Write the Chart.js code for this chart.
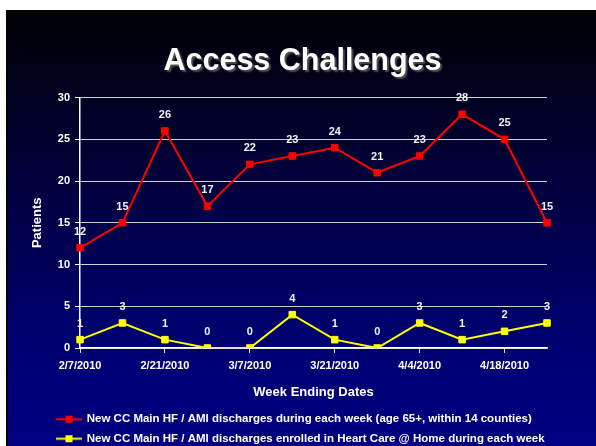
<!DOCTYPE html>
<html>
<head>
<meta charset="utf-8">
<script src="https://cdn.jsdelivr.net/npm/chart.js@4.4.1/dist/chart.umd.min.js"></script>
<style>
html,body{margin:0;padding:0;background:#ffffff;}
#wrap{width:596px;height:446px;position:relative;}
canvas{display:block;}
</style>
</head>
<body>
<div id="wrap"><canvas id="chart" width="596" height="446"></canvas></div>
<script>
// ---- data ----
const weekEnding = ["2/7/2010","2/14/2010","2/21/2010","2/28/2010","3/7/2010","3/14/2010",
                    "3/21/2010","3/28/2010","4/4/2010","4/11/2010","4/18/2010","4/25/2010"];
const newDischarges = [12,15,26,17,22,23,24,21,23,28,25,15];
const enrolledHCH   = [1,3,1,0,0,4,1,0,3,1,2,3];
const seriesNames = [
  "New CC Main HF / AMI discharges during each week (age 65+, within 14 counties)",
  "New CC Main HF / AMI discharges enrolled in Heart Care @ Home during each week"
];
const seriesColors = ["#ff0000", "#ffff00"];
const yMin = 0, yMax = 30, yStep = 5;
const chartTitle = "Access Challenges";
const xTitle = "Week Ending Dates";
const yTitle = "Patients";

const FONT = "'Liberation Sans', Arial, Helvetica, sans-serif";

// legend marker images (line with square)
function legendMarker(color){
  const c = document.createElement('canvas');
  c.width = 26; c.height = 9;
  const g = c.getContext('2d');
  g.strokeStyle = color; g.lineWidth = 2;
  g.beginPath(); g.moveTo(0, 4.5); g.lineTo(26, 4.5); g.stroke();
  g.fillStyle = color; g.fillRect(9.5, 1, 7, 7);
  return c;
}
const markers = seriesColors.map(legendMarker);

const bgPlugin = {
  id: 'bg',
  beforeDraw(chart){
    const ctx = chart.ctx;
    ctx.save();
    ctx.fillStyle = '#ffffff';
    ctx.fillRect(0,0,chart.width,chart.height);
    const g = ctx.createLinearGradient(0, 9, 0, chart.height);
    g.addColorStop(0, '#000005');
    g.addColorStop(0.35, '#000035');
    g.addColorStop(0.75, '#000070');
    g.addColorStop(1, '#000082');
    ctx.fillStyle = g;
    ctx.fillRect(6, 10, chart.width - 6, chart.height - 10);
    ctx.fillStyle = '#000000';
    ctx.fillRect(6, 10, 2, chart.height - 10);
    ctx.restore();
  }
};

const layoutTweak = {
  id: 'layoutTweak',
  afterLayout(chart){
    const L = chart.legend;
    if (L){
      const dx = 49 - L.left, dy = 405.5 - L.top;
      L.left += dx; L.right += dx; L.top += dy; L.bottom += dy;
    }
    const tb = chart.titleBlock;
    if (tb){
      const tx = 19;
      tb.left += tx; tb.right += tx;
      if (!tb._shadowWrapped){
        const orig = tb.draw.bind(tb);
        tb.draw = function(){
          const ctx = chart.ctx;
          ctx.save();
          ctx.shadowColor = 'rgba(80,80,80,1)';
          ctx.shadowOffsetX = 2; ctx.shadowOffsetY = 2; ctx.shadowBlur = 1.5;
          orig();
          ctx.restore();
        };
        tb._shadowWrapped = true;
      }
    }
  }
};

const valueLabels = {
  id: 'valueLabels',
  afterDatasetsDraw(chart){
    const ctx = chart.ctx;
    ctx.save();
    ctx.font = "bold 11px " + FONT;
    ctx.fillStyle = '#f2f2f2';
    ctx.textAlign = 'center';
    ctx.textBaseline = 'middle';
    chart.data.datasets.forEach((ds, i) => {
      chart.getDatasetMeta(i).data.forEach((pt, j) => {
        ctx.fillText(String(ds.data[j]), pt.x, pt.y - 16);
      });
    });
    ctx.restore();
  }
};

new Chart(document.getElementById('chart'), {
  type: 'line',
  data: {
    labels: weekEnding,
    datasets: [
      { label: seriesNames[0], data: newDischarges, borderColor: seriesColors[0], backgroundColor: seriesColors[0],
        borderWidth: 2, pointStyle: 'rect', pointRadius: 4.6, pointBorderWidth: 1, tension: 0 },
      { label: seriesNames[1], data: enrolledHCH, borderColor: seriesColors[1], backgroundColor: seriesColors[1],
        borderWidth: 2, pointStyle: 'rect', pointRadius: 4.6, pointBorderWidth: 1, tension: 0 }
    ]
  },
  options: {
    responsive: false,
    animation: false,
    devicePixelRatio: 1,
    layout: { padding: { top: 10, left: 20, right: 49, bottom: 0 } },
    plugins: {
      title: {
        display: true, text: chartTitle, color: '#ffffff',
        font: { family: FONT, size: 30.5, weight: 'bold' },
        padding: { top: 33.5, bottom: 17.5 }
      },
      legend: {
        display: true, position: 'bottom', align: 'start',
        labels: {
          color: '#ffffff', font: { family: FONT, size: 11.5, weight: 'bold' },
          usePointStyle: true, pointStyleWidth: 24, padding: 8,
          generateLabels(chart){
            const items = Chart.defaults.plugins.legend.labels.generateLabels(chart);
            items.forEach((it, i) => { it.pointStyle = markers[i]; it.fontColor = '#ffffff'; });
            return items;
          }
        }
      },
      tooltip: { enabled: false }
    },
    scales: {
      x: {
        type: 'category',
        offset: false,
        afterBuildTicks(scale){ scale.ticks = scale.ticks.filter(t => t.value % 2 === 0); },
        grid: { drawOnChartArea: false, drawTicks: true, tickLength: 5, tickColor: '#e0e0e0', tickWidth: 1 },
        border: { display: true, color: '#ffffff', width: 1.5 },
        ticks: { color: '#ffffff', font: { family: FONT, size: 11, weight: 'bold' }, autoSkip: false, maxRotation: 0, padding: 6 },
        title: { display: true, text: xTitle, color: '#ffffff', font: { family: FONT, size: 13, weight: 'bold' }, padding: { top: 6, bottom: -2.8 } }
      },
      y: {
        min: yMin, max: yMax,
        grid: { color: '#cfcfd8', lineWidth: 1, drawTicks: true, tickLength: 5, tickColor: '#ffffff' },
        border: { display: true, color: '#ffffff', width: 1.5 },
        ticks: { stepSize: yStep, color: '#ffffff', font: { family: FONT, size: 11, weight: 'bold' }, padding: 5 },
        title: { display: true, text: yTitle, color: '#ffffff', font: { family: FONT, size: 13, weight: 'bold' }, padding: { top: 9.2, bottom: 8 } }
      }
    }
  },
  plugins: [bgPlugin, layoutTweak, valueLabels]
});
</script>
</body>
</html>
